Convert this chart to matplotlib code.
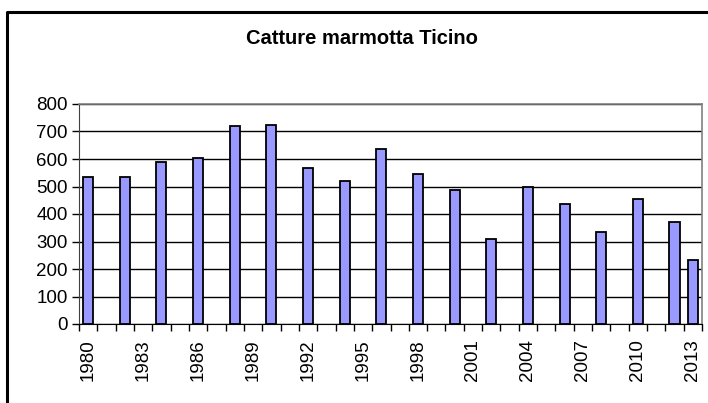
import numpy as np
import matplotlib
matplotlib.use("Agg")
import matplotlib.pyplot as plt
from matplotlib.lines import Line2D

plt.rcParams['font.family'] = ['Liberation Sans', 'DejaVu Sans']

# catture annuali (anni senza dato restano vuoti)
years = list(range(1980, 2014))
bar_years = [1980, 1982, 1984, 1986, 1988, 1990, 1992, 1994, 1996, 1998,
             2000, 2002, 2004, 2006, 2008, 2010, 2012, 2013]
catture = [534, 534, 590, 602, 719, 725, 568, 520, 636, 547,
           487, 309, 500, 438, 335, 453, 370, 232]
label_years = years[::3]

W, H = 708, 403
fig = plt.figure(figsize=(W / 100, H / 100), dpi=100)
ax = fig.add_axes([79 / W, 1 - 324 / H, (702 - 79) / W, (324 - 104) / H])

pos = [years.index(y) for y in bar_years]
ax.bar(pos, catture, width=0.55, color='#9999ff', edgecolor='black',
       linewidth=1.3, zorder=3)

ax.set_xlim(-0.5, len(years) - 0.5)
ax.set_ylim(0, 800)
ax.set_yticks(range(0, 801, 100))
ax.yaxis.grid(True, color='black', linewidth=1.0, zorder=0)

ax.set_xticks([years.index(y) for y in label_years])
ax.set_xticklabels([str(y) for y in label_years], rotation=90, fontsize=13.5)
ax.set_xticks(np.arange(-0.5, len(years)), minor=True)
ax.tick_params(axis='x', which='major', length=0, pad=11)
ax.tick_params(axis='x', which='minor', length=5, width=1, color='black')
ax.tick_params(axis='y', length=5, width=1, labelsize=13.5, pad=3)

for side in ['top', 'right']:
    ax.spines[side].set_color('#808080')
    ax.spines[side].set_linewidth(1.2)
ax.spines['left'].set_color('#404040')
ax.spines['bottom'].set_color('black')
ax.spines['bottom'].set_zorder(4)

fig.text(362 / W, 1 - 39 / H, 'Catture marmotta Ticino', ha='center',
         va='center', fontsize=14.5, fontweight='bold')

# cornice del grafico
fig.add_artist(Line2D([7 / W, 7 / W, 1.0], [0, 1 - 12 / H, 1 - 12 / H],
                      transform=fig.transFigure, color='black', linewidth=2.2))

fig.savefig('out.png', dpi=100)
